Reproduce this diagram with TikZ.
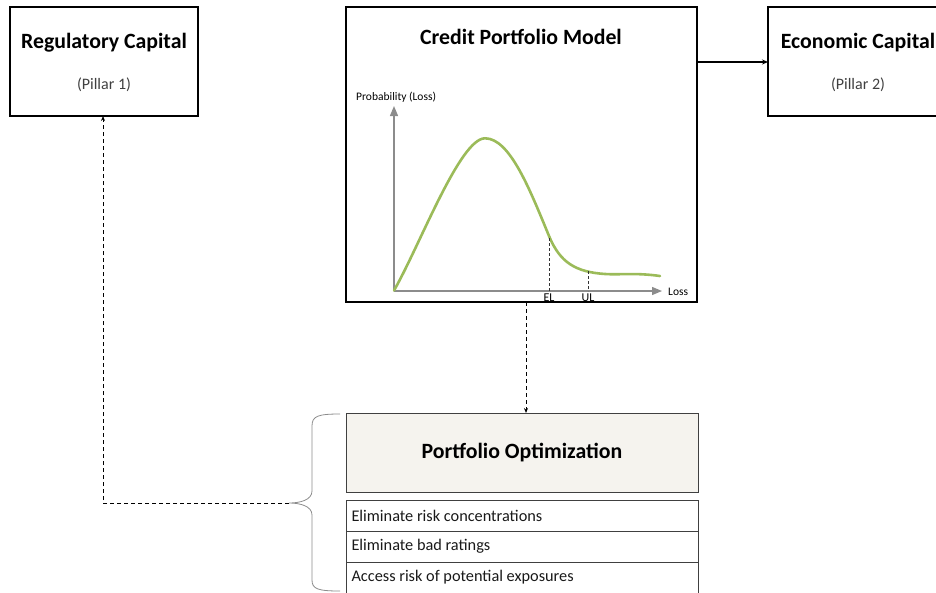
\documentclass[tikz,border=0pt]{standalone}
\usepackage{fontspec}
\setmainfont{Carlito}
\usetikzlibrary{arrows.meta}
\definecolor{curvegreen}{HTML}{9BBB59}
\definecolor{axisgray}{HTML}{8C8C8C}
\definecolor{optfill}{HTML}{F5F3EE}
\begin{document}
\begin{tikzpicture}[x={(1pt,0pt)},y={(0pt,-1pt)},
  box/.style={draw=black,line width=1.1pt},
  rowbox/.style={draw=black!75,line width=0.8pt},
  ttl/.style={font=\fontsize{21.8}{24}\selectfont\bfseries},
  sub/.style={font=\fontsize{16}{18}\selectfont, text=black!75},
  rowtxt/.style={font=\fontsize{16.3}{18}\selectfont, anchor=west, text=black!90},
  dashline/.style={line width=0.9pt, dash pattern=on 4pt off 3pt},
  small/.style={font=\fontsize{11.5}{13}\selectfont},
  tick/.style={font=\fontsize{12}{13}\selectfont, inner sep=0pt}
]
\useasboundingbox (0,0) rectangle (936,592);
% top boxes
\draw[box] (10,7) rectangle (198,116);
\node[ttl] (regt) at (104,43) {Regulatory Capital};
\node[sub] (regs) at (104,85) {(Pillar 1)};
\coordinate (regb) at (103,116);

\draw[box] (346,7) rectangle (697,302);
\node[ttl] (cpmt) at (521,37) {Credit Portfolio Model};
\coordinate (cpmr) at (697,62);
\coordinate (cpmb) at (526,302);

\draw[box] (768,7) rectangle (950,116);
\node[ttl] (ect) at (858,43) {Economic Capital};
\node[sub] (ecs) at (858,85) {(Pillar 2)};
\coordinate (ecl) at (768,62);

\draw[line width=1.1pt,-{Stealth[length=6pt,width=5pt]}] (cpmr) -- (ecl);

% chart
\coordinate (orig) at (394,291);
\coordinate (ytop) at (394,106);
\coordinate (xend) at (662,291);
\draw[axisgray,line width=1.3pt,-{Triangle[length=10pt,width=8pt]}] (orig) -- (ytop);
\draw[axisgray,line width=1.3pt,-{Triangle[length=10pt,width=8pt]}] (orig) -- (xend);
\node[small,anchor=west,inner sep=0pt] (plab) at (356,97) {Probability (Loss)};
\node[small,anchor=west,inner sep=0pt] (llab) at (668,292) {Loss};
\draw[curvegreen,line width=2.6pt,line cap=round]
  (394,290.5) .. controls (420,245) and (460,138.3) .. (485,138.3)
  .. controls (510,138.3) and (530,190) .. (549.3,236.7)
  .. controls (560,262) and (575,272) .. (605,274)
  .. controls (620,275) and (635,272.5) .. (660,276);
\coordinate (elt) at (549.3,238);
\coordinate (elb) at (549.3,291);
\coordinate (ult) at (588.3,271);
\coordinate (ulb) at (588.3,291);
\draw[densely dashed,line width=0.5pt,black!80] (elt) -- (elb);
\draw[densely dashed,line width=0.5pt,black!80] (ult) -- (ulb);
\node[tick] (ell) at (549,297.5) {EL};
\node[tick] (ull) at (588,297.5) {UL};

% portfolio optimization
\draw[rowbox,fill=optfill] (346,413) rectangle (698,492);
\node[ttl] (pot) at (522,453) {Portfolio Optimization};
\coordinate (pott) at (526,413);
\draw[rowbox] (346,500) rectangle (698,531);
\draw[rowbox] (346,531) rectangle (698,562);
\draw[rowbox] (346,562) rectangle (698,594);
\node[rowtxt] (r1) at (348,516) {Eliminate risk concentrations};
\node[rowtxt] (r2) at (348,546.5) {Eliminate bad ratings};
\node[rowtxt] (r3) at (348,577.5) {Access risk of potential exposures};

\draw[dashline,-{Stealth[length=5pt,width=4pt]}] (cpmb) -- (pott);

% brace
\coordinate (brtip) at (289,503);
\draw[axisgray,line width=0.8pt] (340,414) .. controls (318,414) and (312,416) .. (312,426)
  -- (312,491) .. controls (312,500) and (300,503) .. (brtip)
  .. controls (300,503) and (312,506) .. (312,515)
  -- (312,580) .. controls (312,589) and (318,591) .. (340,591);
\draw[dashline,-{Stealth[length=5pt,width=4pt]}] (brtip) -- (103,503) -- (regb);
\end{tikzpicture}
\end{document}
